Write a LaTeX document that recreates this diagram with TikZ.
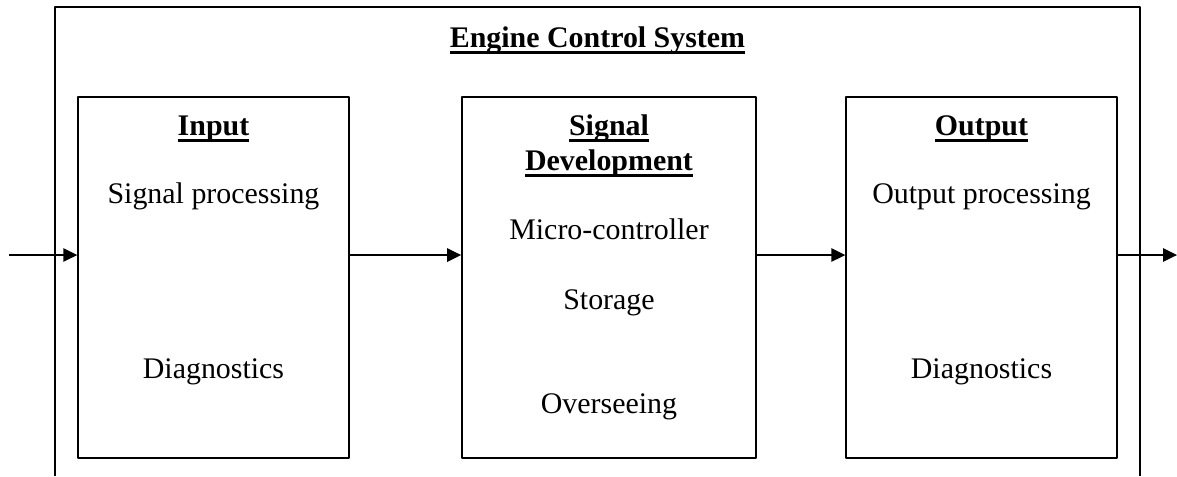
\documentclass[tikz,border=0pt]{standalone}
\usepackage{fontspec}
\setmainfont{Liberation Serif}
\usetikzlibrary{arrows.meta}
\newcommand\hdtxt[1]{\setbox0\hbox{\bfseries #1}\rlap{\rule[-2.8pt]{\wd0}{1.1pt}}\box0}
\tikzset{
  blk/.style={draw, line width=.6pt, minimum height=5.09cm, inner sep=0pt},
  lbl/.style={anchor=base, inner sep=0pt, align=center},
  arr/.style={line width=.6pt, -{Triangle[length=5.6pt,width=5.4pt]}}
}
\begin{document}
\begin{tikzpicture}[x=0.0141cm, y=-0.0141cm, font=\fontsize{12}{14}\selectfont, line join=round]
	\useasboundingbox (0,0) rectangle (1177,476);
		\coordinate (sysA) at (55,476);
		\coordinate (sysB) at (55,7);
		\coordinate (sysC) at (1140,7);
		\coordinate (sysD) at (1140,476);
	\draw[line width=.6pt] (sysA)--(sysB)--(sysC)--(sysD);
	\node[lbl] (title) at (597.5,47) {\hdtxt{Engine Control System}};
	% the three blocks
	\node[blk, minimum width=3.82cm] (inp) at (213.5,277.5) {};
	\node[blk, minimum width=4.15cm] (sig) at (609,277.5) {};
	\node[blk, minimum width=3.82cm] (out) at (981.5,277.5) {};
	% texts in the blocks
	\node[lbl] (inpH) at (213.5,135) {\hdtxt{Input}};
	\node[lbl] (inpA) at (213.5,203) {Signal processing};
	\node[lbl] (inpB) at (213.5,378) {Diagnostics};
	\node[lbl] (sigH) at (609,170) {\hdtxt{Signal}\\\hdtxt{Development}};
	\node[lbl] (sigA) at (609,239) {Micro-controller};
	\node[lbl] (sigB) at (609,309) {Storage};
	\node[lbl] (sigC) at (609,413) {Overseeing};
	\node[lbl] (outH) at (981.5,135) {\hdtxt{Output}};
	\node[lbl] (outA) at (981.5,203) {Output processing};
	\node[lbl] (outB) at (981.5,378) {Diagnostics};
	% signal path
		\coordinate (lev) at (0,255);
		\coordinate (src) at (9,255);
		\coordinate (snk) at (1177,255);
	\draw[arr] (src) -- (inp.west |- lev);
	\draw[arr] (inp.east |- lev) -- (sig.west |- lev);
	\draw[arr] (sig.east |- lev) -- (out.west |- lev);
	\draw[arr] (out.east |- lev) -- (snk);
\end{tikzpicture}
\end{document}
